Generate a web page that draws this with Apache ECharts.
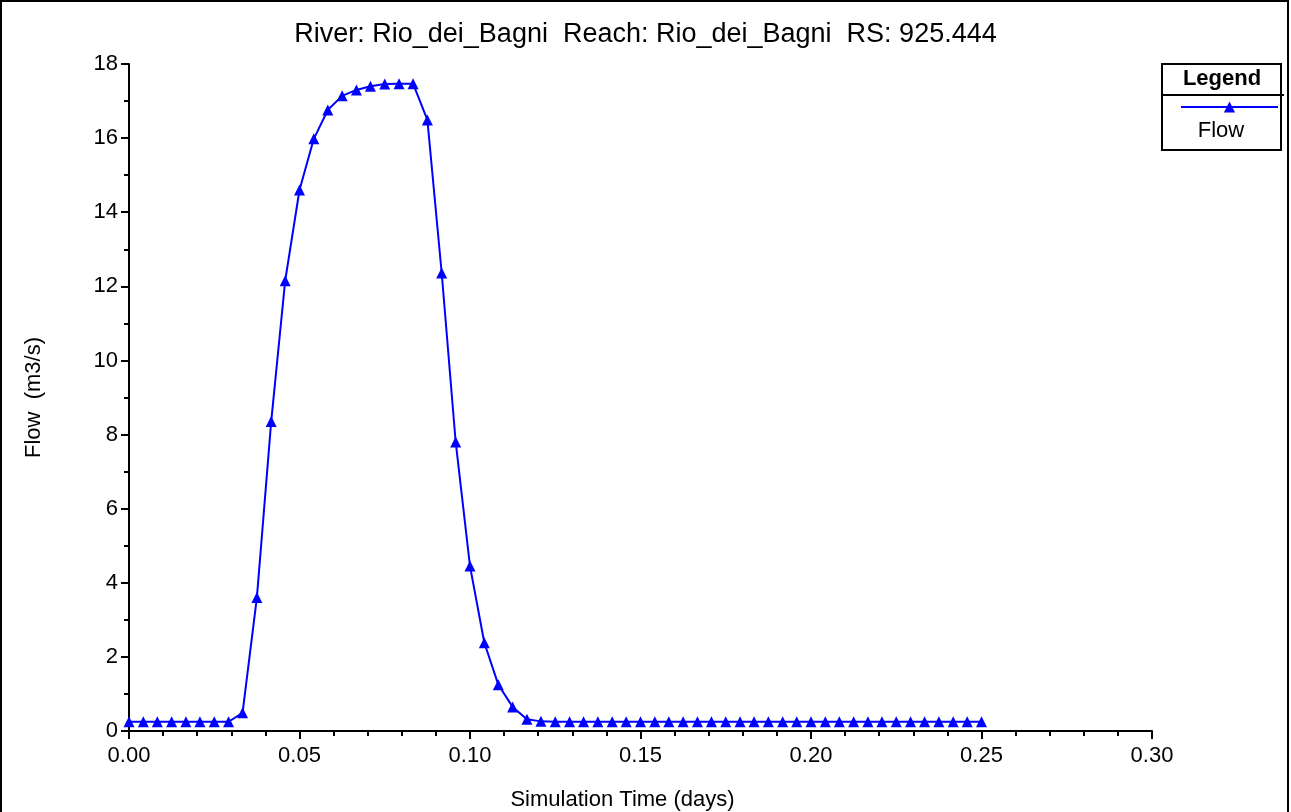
<!DOCTYPE html>
<html>
<head>
<meta charset="utf-8">
<script src="https://cdn.jsdelivr.net/npm/echarts@6/dist/echarts.min.js"></script>
<style>
  html, body { margin: 0; padding: 0; background: #fff; }
  #chart { width: 1291px; height: 812px; }
</style>
</head>
<body>
<div id="chart"></div>
<script>
// simulation time (days), 6 minute steps
var times = [0, 0.0042, 0.0083, 0.0125, 0.0167, 0.0208, 0.025, 0.0292, 0.0333, 0.0375,
  0.0417, 0.0458, 0.05, 0.0542, 0.0583, 0.0625, 0.0667, 0.0708, 0.075, 0.0792,
  0.0833, 0.0875, 0.0917, 0.0958, 0.1, 0.1042, 0.1083, 0.1125, 0.1167, 0.1208,
  0.125, 0.1292, 0.1333, 0.1375, 0.1417, 0.1458, 0.15, 0.1542, 0.1583, 0.1625,
  0.1667, 0.1708, 0.175, 0.1792, 0.1833, 0.1875, 0.1917, 0.1958, 0.2, 0.2042,
  0.2083, 0.2125, 0.2167, 0.2208, 0.225, 0.2292, 0.2333, 0.2375, 0.2417, 0.2458,
  0.25];
// flow (m3/s)
var flow = [0.25, 0.25, 0.25, 0.25, 0.25, 0.25, 0.25, 0.25, 0.49, 3.6,
  8.35, 12.15, 14.6, 15.98, 16.76, 17.14, 17.3, 17.4, 17.46, 17.47,
  17.47, 16.49, 12.36, 7.8, 4.45, 2.38, 1.25, 0.65, 0.32, 0.26,
  0.25, 0.25, 0.25, 0.25, 0.25, 0.25, 0.25, 0.25, 0.25, 0.25,
  0.25, 0.25, 0.25, 0.25, 0.25, 0.25, 0.25, 0.25, 0.25, 0.25,
  0.25, 0.25, 0.25, 0.25, 0.25, 0.25, 0.25, 0.25, 0.25, 0.25,
  0.25];
var titleText = "River: Rio_dei_Bagni  Reach: Rio_dei_Bagni  RS: 925.444";
var seriesName = "Flow";

var pts = [];
times.forEach(function (t, i) {
  pts.push([t, flow[i]]);
});

var font = "'Liberation Sans', Arial, sans-serif";

var option = {
  backgroundColor: "#fff",
  animation: false,
  title: {
    text: titleText,
    left: "center",
    top: 16,
    textStyle: { fontFamily: font, fontSize: 27, fontWeight: "normal", color: "#000" }
  },
  legend: {
    data: [seriesName],
    left: 1175,
    top: 95,
    itemWidth: 97,
    itemHeight: 14,
    formatter: function () { return ""; },
    textStyle: { fontSize: 1 }
  },
  grid: { left: 129, right: 139, top: 64, bottom: 81, outerBoundsMode: "none" },
  xAxis: {
    type: "value",
    min: 0,
    max: 0.3,
    interval: 0.05,
    name: "Simulation Time (days)",
    nameLocation: "middle",
    nameGap: 58,
    nameTextStyle: { fontFamily: font, fontSize: 22, color: "#000", padding: [0, 36, 0, 0] },
    axisLine: { lineStyle: { color: "#000", width: 2 } },
    axisTick: { show: true, length: 8, lineStyle: { color: "#000", width: 2 } },
    minorTick: { show: true, splitNumber: 5, length: 5, lineStyle: { color: "#000", width: 2 } },
    axisLabel: {
      fontFamily: font, fontSize: 22, color: "#000", margin: 14,
      formatter: function (v) { return v.toFixed(2); }
    },
    splitLine: { show: false }
  },
  yAxis: {
    type: "value",
    min: 0,
    max: 18,
    interval: 2,
    name: "Flow  (m3/s)",
    nameLocation: "middle",
    nameGap: 84,
    nameTextStyle: { fontFamily: font, fontSize: 22, color: "#000" },
    axisLine: { show: true, lineStyle: { color: "#000", width: 2 } },
    axisTick: { show: true, length: 8, lineStyle: { color: "#000", width: 2 } },
    minorTick: { show: true, splitNumber: 2, length: 5, lineStyle: { color: "#000", width: 2 } },
    axisLabel: { fontFamily: font, fontSize: 22, color: "#000", margin: 11 },
    splitLine: { show: false }
  },
  series: [{
    name: seriesName,
    type: "line",
    data: pts,
    symbol: "triangle",
    symbolSize: 11,
    showAllSymbol: true,
    lineStyle: { color: "#0000ff", width: 2 },
    itemStyle: { color: "#0000ff" }
  }],
  graphic: [
    { type: "rect", shape: { x: 1, y: 1, width: 1287, height: 830 },
      style: { fill: "none", stroke: "#000", lineWidth: 2 } },
    { type: "rect", shape: { x: 1162, y: 64, width: 119, height: 86 },
      style: { fill: "none", stroke: "#000", lineWidth: 2 } },
    { type: "line", shape: { x1: 1162, y1: 95, x2: 1284, y2: 95 },
      style: { stroke: "#000", lineWidth: 2 } },
    { type: "text", x: 1222, y: 79,
      style: { text: "Legend", fontFamily: font, fontSize: 22, fontWeight: "bold",
        fill: "#000", align: "center", verticalAlign: "middle" } },
    { type: "text", x: 1221, y: 131,
      style: { text: seriesName, fontFamily: font, fontSize: 22,
        fill: "#000", align: "center", verticalAlign: "middle" } }
  ]
};

var chart = echarts.init(document.getElementById("chart"));
chart.setOption(option);
</script>
</body>
</html>
